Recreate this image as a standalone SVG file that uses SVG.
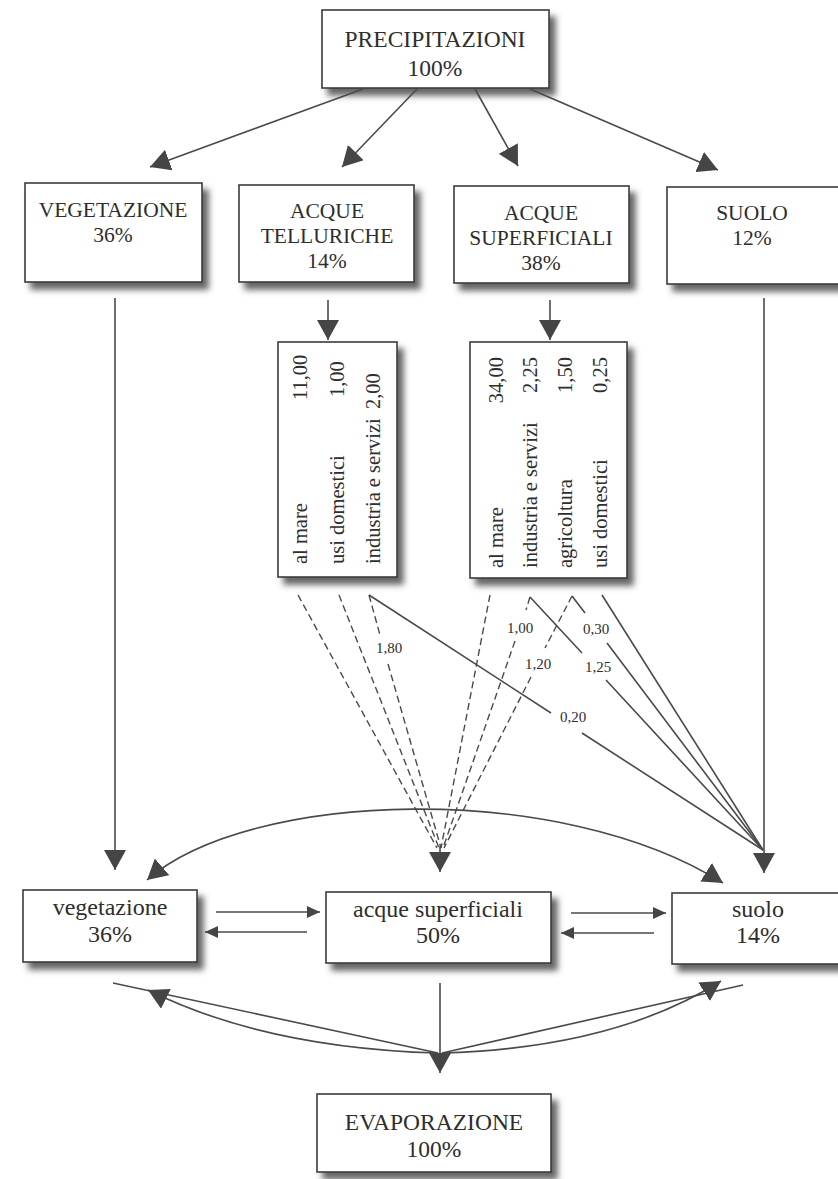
<svg xmlns="http://www.w3.org/2000/svg" width="838" height="1179" viewBox="0 0 838 1179">
<style>
  .box{fill:#fff;stroke:#3c3c3c;stroke-width:1.6;filter:url(#shadow)}
  .t{font-family:"Liberation Serif","Times New Roman",serif;fill:#2e2e2e;text-anchor:middle}
  .up{font-size:21.5px}
  .lo{font-size:24px}
  .big{font-size:23.5px}
  .tab{font-family:"Liberation Serif","Times New Roman",serif;font-size:20.5px;fill:#2e2e2e}
  .lbl{font-family:"Liberation Serif","Times New Roman",serif;font-size:15px;fill:#2e2e2e;text-anchor:middle}
  .ln{fill:none;stroke:#4a4a4a;stroke-width:1.6}
  .ds{stroke-dasharray:7 4;stroke-width:1.4}
  .arr{marker-end:url(#ah)}
  .arr2{marker-start:url(#ah);marker-end:url(#ah)}
  .sarr{marker-end:url(#ahs)}
</style>
<defs>
  <filter id="shadow" x="-10%" y="-10%" width="130%" height="140%">
    <feGaussianBlur in="SourceAlpha" stdDeviation="3.2"/>
    <feOffset dx="6" dy="7" result="b"/>
    <feFlood flood-color="#4a4a4a" flood-opacity="0.85"/>
    <feComposite in2="b" operator="in"/>
    <feMerge><feMergeNode/><feMergeNode in="SourceGraphic"/></feMerge>
  </filter>
  <marker id="ah" viewBox="0 0 20 22" refX="20" refY="11" markerWidth="20" markerHeight="22" markerUnits="userSpaceOnUse" orient="auto-start-reverse">
    <path d="M0,0 L20,11 L0,22 z" fill="#454545"/>
  </marker>
  <marker id="ahs" viewBox="0 0 13 12" refX="13" refY="6" markerWidth="13" markerHeight="12" markerUnits="userSpaceOnUse" orient="auto">
    <path d="M0,0 L13,6 L0,12 z" fill="#454545"/>
  </marker>
</defs>

<!-- source -->
<g id="precipitazioni">
  <rect class="box" x="322" y="10" width="227" height="78"/>
  <text class="t big" x="435" y="47">PRECIPITAZIONI</text>
  <text class="t big" x="435" y="76">100%</text>
</g>

<!-- first split -->
<g id="vegetazione-top">
  <rect class="box" x="25" y="183" width="177" height="99"/>
  <text class="t up" x="113" y="217">VEGETAZIONE</text>
  <text class="t up" x="113" y="242">36%</text>
</g>
<g id="acque-telluriche">
  <rect class="box" x="239" y="185" width="175" height="97"/>
  <text class="t up" x="327" y="218">ACQUE</text>
  <text class="t up" x="327" y="243">TELLURICHE</text>
  <text class="t up" x="327" y="268">14%</text>
</g>
<g id="acque-superficiali-top">
  <rect class="box" x="454" y="186" width="175" height="97"/>
  <text class="t up" x="541" y="220">ACQUE</text>
  <text class="t up" x="541" y="245">SUPERFICIALI</text>
  <text class="t up" x="541" y="270">38%</text>
</g>
<g id="suolo-top">
  <rect class="box" x="667" y="187" width="182" height="97"/>
  <text class="t up" x="752" y="220">SUOLO</text>
  <text class="t up" x="752" y="245">12%</text>
</g>

<!-- usage tables (rotated) -->
<g id="tabella-telluriche">
  <rect class="box" x="278" y="342" width="119" height="235"/>
  <text class="tab" transform="translate(307,564) rotate(-90)">al mare</text>
  <text class="tab" transform="translate(307,400) rotate(-90)">11,00</text>
  <text class="tab" transform="translate(344,564) rotate(-90)">usi domestici</text>
  <text class="tab" transform="translate(344,397) rotate(-90)">1,00</text>
  <text class="tab" transform="translate(380,564) rotate(-90)">industria e servizi</text>
  <text class="tab" transform="translate(380,409) rotate(-90)">2,00</text>
</g>
<g id="tabella-superficiali">
  <rect class="box" x="470" y="342" width="157" height="236"/>
  <text class="tab" transform="translate(503,568) rotate(-90)">al mare</text>
  <text class="tab" transform="translate(503,357) rotate(-90)" text-anchor="end">34,00</text>
  <text class="tab" transform="translate(537,568) rotate(-90)">industria e servizi</text>
  <text class="tab" transform="translate(537,357) rotate(-90)" text-anchor="end">2,25</text>
  <text class="tab" transform="translate(572,568) rotate(-90)">agricoltura</text>
  <text class="tab" transform="translate(572,357) rotate(-90)" text-anchor="end">1,50</text>
  <text class="tab" transform="translate(607,568) rotate(-90)">usi domestici</text>
  <text class="tab" transform="translate(607,357) rotate(-90)" text-anchor="end">0,25</text>
</g>

<!-- second level -->
<g id="vegetazione">
  <rect class="box" x="23" y="890" width="174" height="72"/>
  <text class="t lo" x="110" y="915">vegetazione</text>
  <text class="t lo" x="110" y="942">36%</text>
</g>
<g id="acque-superficiali">
  <rect class="box" x="326" y="892" width="225" height="71"/>
  <text class="t lo" x="438" y="917">acque superficiali</text>
  <text class="t lo" x="438" y="943">50%</text>
</g>
<g id="suolo">
  <rect class="box" x="672" y="893" width="180" height="71"/>
  <text class="t lo" x="758" y="917">suolo</text>
  <text class="t lo" x="758" y="943">14%</text>
</g>

<g id="evaporazione">
  <rect class="box" x="317" y="1094" width="234" height="78"/>
  <text class="t big" x="434" y="1130">EVAPORAZIONE</text>
  <text class="t big" x="434" y="1157">100%</text>
</g>

<g id="connectors">
  <!-- precipitation split -->
  <path class="ln arr" d="M363,89 L150,167"/>
  <path class="ln arr" d="M417,89 L342,167"/>
  <path class="ln arr" d="M475,89 L518,166"/>
  <path class="ln arr" d="M530,89 L718,170"/>
  <!-- into the tables -->
  <path class="ln arr" d="M328,300 L328,340"/>
  <path class="ln arr" d="M550,300 L550,340"/>
  <!-- direct verticals -->
  <path class="ln arr" d="M115,298 L115,870"/>
  <path class="ln arr" d="M764,298 L764,873"/>

  <!-- from acque telluriche -->
  <path class="ln ds" d="M298,595 L437,848"/>
  <path class="ln ds" d="M339,595 L439,848"/>
  <path class="ln ds" d="M369,595 L380,635 M388,664 L441,848"/>
  <path class="ln" d="M369,595 L551,713 M582,733 L763,850"/>

  <!-- from acque superficiali -->
  <path class="ln ds" d="M490,595 L441,848"/>
  <path class="ln ds" d="M530,597 L526,610 M515,641 L443,848"/>
  <path class="ln ds" d="M572,596 L545,648 M531,677 L444,848"/>
  <path class="ln" d="M572,596 L585,613 M607,643 L763,850"/>
  <path class="ln" d="M530,597 L582,653 M606,680 L763,850"/>
  <path class="ln" d="M602,595 L763,850"/>
  <path class="ln arr" d="M440,846 L440,872"/>

  <text class="lbl" x="389" y="653">1,80</text>
  <text class="lbl" x="520" y="633">1,00</text>
  <text class="lbl" x="596" y="634">0,30</text>
  <text class="lbl" x="538" y="669">1,20</text>
  <text class="lbl" x="598" y="672">1,25</text>
  <text class="lbl" x="573" y="722">0,20</text>

  <!-- exchange arc -->
  <path class="ln arr2" d="M147,880 C250,790 560,780 723,883"/>

  <!-- horizontal exchanges -->
  <path class="ln sarr" d="M216,912 L320,912"/>
  <path class="ln sarr" d="M307,932 L205,932"/>
  <path class="ln sarr" d="M571,913 L666,913"/>
  <path class="ln sarr" d="M654,933 L561,933"/>

  <!-- evaporation -->
  <path class="ln arr" d="M440,983 L440,1073"/>
  <path class="ln" d="M113,983 L438,1053"/>
  <path class="ln" d="M743,985 L442,1053"/>
  <path class="ln arr" d="M438,1053 Q265,1048 148,990"/>
  <path class="ln arr" d="M442,1053 Q615,1048 721,981"/>
</g>
</svg>
